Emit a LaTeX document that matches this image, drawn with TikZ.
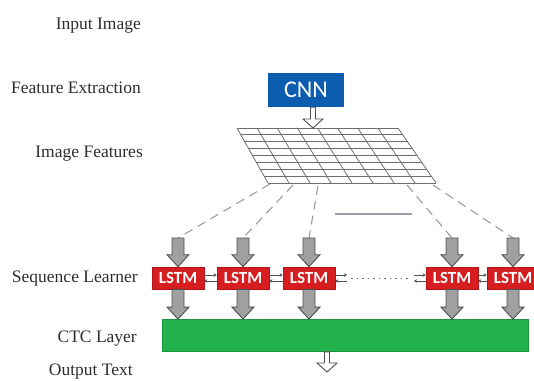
\documentclass[tikz,border=0pt]{standalone}
\usepackage{fontspec}
\setmainfont{Liberation Serif}
\newfontfamily\calib{Carlito}
\usetikzlibrary{calc,arrows.meta}
\definecolor{cnnblue}{RGB}{12,92,176}
\definecolor{lstmred}{RGB}{214,30,32}
\definecolor{lstmborder}{RGB}{180,20,22}
\definecolor{ctcgreen}{RGB}{36,178,76}
\definecolor{ctcborder}{RGB}{28,150,62}
\definecolor{arrowfill}{RGB}{160,160,160}
\definecolor{arrowline}{RGB}{80,80,80}
\definecolor{labelgray}{RGB}{45,45,45}
\definecolor{gridgray}{RGB}{110,110,110}
\definecolor{dashgray}{RGB}{150,156,168}
\newcommand\blockarr[2]{\path[draw=arrowline, fill=arrowfill, line width=0.9pt, line join=miter]
  let \p1=(#1), \p2=(#2) in
  (\x1-6pt,\y1) -- (\x1+6pt,\y1) -- (\x1+6pt,\y2+12pt) -- (\x1+11pt,\y2+12pt)
  -- (\x1,\y2) -- (\x1-11pt,\y2+12pt) -- (\x1-6pt,\y2+12pt) -- cycle;}
\newcommand\thinarr[2]{\path[draw=arrowline, fill=white, line width=0.9pt]
  let \p1=(#1), \p2=(#2) in
  (\x1-2.5pt,\y1) -- (\x1+2.5pt,\y1) -- (\x1+2.5pt,\y2+9pt) -- (\x1+10pt,\y2+9pt)
  -- (\x1,\y2) -- (\x1-10pt,\y2+9pt) -- (\x1-2.5pt,\y2+9pt) -- cycle;}
\tikzset{
  lbl/.style={anchor=base east, inner sep=0pt, text=labelgray, font=\fontsize{17.5}{18}\selectfont},
  cnnbox/.style={fill=cnnblue, minimum width=76pt, minimum height=34pt, inner sep=0pt,
    text=white, font=\calib\fontsize{24}{24}\selectfont},
  lstm/.style={fill=lstmred, draw=lstmborder, line width=0.6pt, minimum width=52pt, minimum height=22pt,
    inner sep=0pt, text=white, font=\calib\bfseries\fontsize{17}{17}\selectfont},
  ctcbox/.style={fill=ctcgreen, draw=ctcborder, line width=0.8pt, minimum width=366pt, minimum height=32pt, inner sep=0pt},
  gridline/.style={draw=gridgray, line width=0.8pt},
  dashline/.style={draw=dashgray, line width=1.1pt, dash pattern=on 9pt off 6pt},
  bi/.style={draw=arrowline, line width=0.8pt, -{Stealth[length=3pt,width=3.5pt]}},
  dotline/.style={draw=gridgray, line width=0.8pt, dash pattern=on 1.5pt off 4pt},
  ellline/.style={draw=dashgray, line width=1.4pt}
}
\begin{document}
\begin{tikzpicture}[x=1pt,y=-1pt]
\useasboundingbox (0,0) rectangle (534,380);
% labels
\node[lbl] (l1) at (141,29.5) {Input Image};
\node[lbl] (l2) at (141,93) {Feature Extraction};
\node[lbl] (l3) at (143,157) {Image Features};
\node[lbl] (l4) at (138,282) {Sequence Learner};
\node[lbl] (l5) at (137,342) {CTC Layer};
\node[lbl] (l6) at (133,375) {Output Text};
% CNN
\node[cnnbox] (cnn) at (306,90) {CNN};
% grid
\coordinate (gtl) at (237,128);
\coordinate (gtr) at (398,128);
\coordinate (gbl) at (268,183);
\coordinate (gbr) at (436,183);
\foreach \i in {0,...,8}
  \draw[gridline] ($(gtl)!\i/8!(gtr)$) -- ($(gbl)!\i/8!(gbr)$);
\foreach \j in {0,...,8}
  \draw[gridline] ($(gtl)!\j/8!(gbl)$) -- ($(gtr)!\j/8!(gbr)$);
\coordinate (cnnout) at ($(cnn.south)+(7,0)$);
\coordinate (gin) at (313,128);
\thinarr{cnnout}{gin}
% LSTM row
\node[lstm] (s1) at (178,278) {LSTM};
\node[lstm] (s2) at (243,278) {LSTM};
\node[lstm] (s3) at (309,278) {LSTM};
\node[lstm] (s4) at (452,278) {LSTM};
\node[lstm] (s5) at (513,278) {LSTM};
% CTC
\node[ctcbox] (ctc) at (345,335.5) {};
% arrow tops and dashed lines
\foreach \k/\x in {1/178,2/243,3/309,4/452,5/513}
  \coordinate (t\k) at (\x,238);
\coordinate (b1) at (270,184);
\coordinate (b2) at (293,185);
\coordinate (b3) at (318,186);
\coordinate (b4) at (407,185);
\coordinate (b5) at (433,185);
\foreach \k in {1,...,5}
  \draw[dashline] (b\k) -- (t\k);
\coordinate (e1) at (335,214);
\coordinate (e2) at (412,214);
\draw[ellline] (e1) -- (e2);
% block arrows
\foreach \k in {1,...,5} {
  \blockarr{t\k}{s\k.north}
  \blockarr{s\k.south}{s\k.south |- ctc.north}
}
% bidirectional links
\coordinate (d1) at (347,278);
\coordinate (d2) at (414,278);
\draw[bi] ([yshift=3pt]s1.east) -- ([yshift=3pt]s2.west);
\draw[bi] ([yshift=-3pt]s2.west) -- ([yshift=-3pt]s1.east);
\draw[bi] ([yshift=3pt]s2.east) -- ([yshift=3pt]s3.west);
\draw[bi] ([yshift=-3pt]s3.west) -- ([yshift=-3pt]s2.east);
\draw[bi] ([yshift=3pt]s3.east) -- ([yshift=3pt]d1);
\draw[bi] ([yshift=-3pt]d1) -- ([yshift=-3pt]s3.east);
\draw[dotline] ([xshift=4pt]d1) -- ([xshift=-4pt]d2);
\draw[bi] ([yshift=3pt]d2) -- ([yshift=3pt]s4.west);
\draw[bi] ([yshift=-3pt]s4.west) -- ([yshift=-3pt]d2);
\draw[bi] ([yshift=3pt]s4.east) -- ([yshift=3pt]s5.west);
\draw[bi] ([yshift=-3pt]s5.west) -- ([yshift=-3pt]s4.east);
% output arrow
\coordinate (ctcout) at ($(ctc.south)+(-18,0)$);
\coordinate (outtip) at (327,372);
\thinarr{ctcout}{outtip}
\end{tikzpicture}
\end{document}
